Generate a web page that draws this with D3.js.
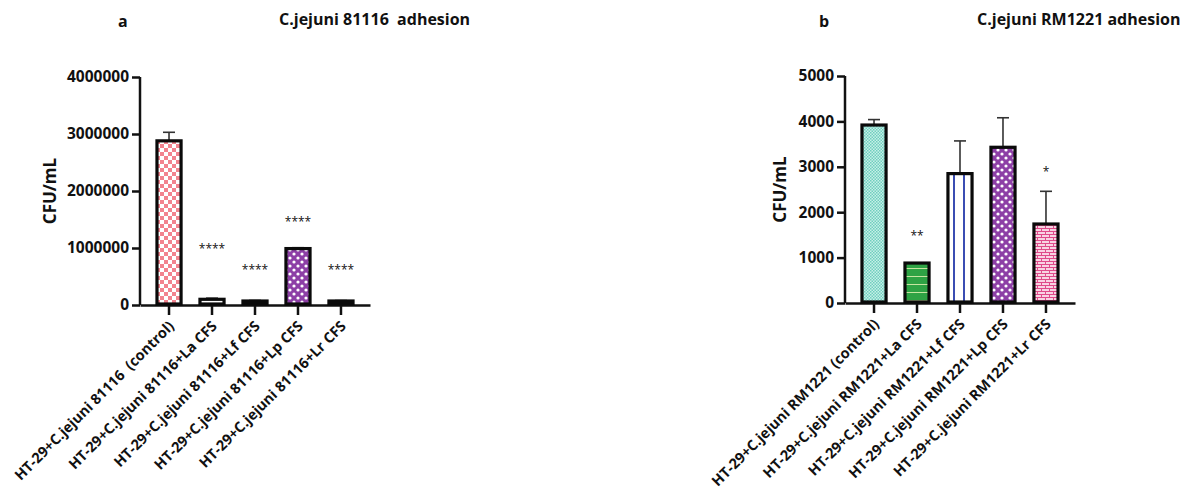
<!DOCTYPE html>
<html lang="en">
<head>
<meta charset="UTF-8">
<title>C.jejuni adhesion</title>
<style>
  body { margin: 0; background: #fff; }
  svg { display: block; }
  text { font-family: "Open Sans", "Noto Sans", sans-serif; fill: #111; white-space: pre; }
  .tick text { font-weight: bold; font-size: 15.5px; }
  .xlab { font-weight: bold; font-size: 14.5px; }
  .title { font-weight: bold; font-size: 16px; }
  .panel { font-weight: bold; font-size: 16px; }
  .ylab { font-weight: bold; font-size: 17px; }
  .star { font-size: 12px; }
</style>
</head>
<body>
<div id="chart"></div>
<script src="https://cdn.jsdelivr.net/npm/d3@7"></script>
<script>
// ---- data ----
var catsA = ["HT-29+C.jejuni 81116  (control)", "HT-29+C.jejuni 81116+La CFS",
  "HT-29+C.jejuni 81116+Lf CFS", "HT-29+C.jejuni 81116+Lp CFS", "HT-29+C.jejuni 81116+Lr CFS"];
var valsA = [2880000, 100000, 70000, 990000, 70000];
var errA = [150000, 20000, 10000, 15000, 8000];
var starsA = ["", "****", "****", "****", "****"];
var starYA = [0, 1000000, 640000, 1470000, 640000];
var ticksA = [0, 1000000, 2000000, 3000000, 4000000];

var catsB = ["HT-29+C.jejuni RM1221 (control)", "HT-29+C.jejuni RM1221+La CFS",
  "HT-29+C.jejuni RM1221+Lf CFS", "HT-29+C.jejuni RM1221+Lp CFS", "HT-29+C.jejuni RM1221+Lr CFS"];
var valsB = [3920, 880, 2850, 3430, 1740];
var errB = [120, 0, 720, 650, 720];
var starsB = ["", "**", "", "", "*"];
var starYB = [0, 1500, 0, 0, 2900];
var ticksB = [0, 1000, 2000, 3000, 4000, 5000];

var W = 1199, H = 494;
var svg = d3.select("#chart").append("svg").attr("width", W).attr("height", H);
var defs = svg.append("defs");

// ---- fill patterns ----
function pat(id, w, h, bg) {
  var p = defs.append("pattern").attr("id", id).attr("patternUnits", "userSpaceOnUse")
    .attr("width", w).attr("height", h);
  p.append("rect").attr("width", w).attr("height", h).attr("fill", bg);
  return p;
}
var p1 = pat("checkPink", 8, 8, "#fff");
p1.append("rect").attr("width", 4).attr("height", 4).attr("fill", "#f2838e");
p1.append("rect").attr("x", 4).attr("y", 4).attr("width", 4).attr("height", 4).attr("fill", "#f2838e");

pat("plainWhite", 4, 4, "#fff");

var p3 = pat("navyDash", 8, 4, "#1c1f5c");
p3.append("rect").attr("x", 2).attr("y", 1.5).attr("width", 3).attr("height", 1).attr("fill", "#fff");

function dots(id, bg) {
  var p = pat(id, 8, 8, bg);
  p.append("circle").attr("cx", 2).attr("cy", 2).attr("r", 1.6).attr("fill", "#fff");
  p.append("circle").attr("cx", 6).attr("cy", 6).attr("r", 1.6).attr("fill", "#fff");
}
dots("purpleDots", "#8d3fa6");

var p5 = pat("redLine", 6, 4, "#f4e4ea");
p5.append("rect").attr("y", 1).attr("width", 6).attr("height", 1.5).attr("fill", "#b2385a");

var p6 = pat("tealCheck", 3, 3, "#c8efe8");
p6.append("rect").attr("width", 1.5).attr("height", 1.5).attr("fill", "#6fcfbe");
p6.append("rect").attr("x", 1.5).attr("y", 1.5).attr("width", 1.5).attr("height", 1.5).attr("fill", "#6fcfbe");

var p7 = pat("greenLines", 6, 8, "#2ea344");
p7.append("rect").attr("y", 4).attr("width", 6).attr("height", 1).attr("fill", "#c6e6a0");

var p8 = pat("blueStripes", 10, 6, "#fff");
p8.append("rect").attr("x", 3).attr("width", 2).attr("height", 6).attr("fill", "#3b4db3");

var p9 = pat("pinkBrick", 8, 6, "#f8d3e2");
p9.append("rect").attr("y", 0).attr("width", 8).attr("height", 1).attr("fill", "#df4a8a");
p9.append("rect").attr("y", 3).attr("width", 8).attr("height", 1).attr("fill", "#df4a8a");
p9.append("rect").attr("x", 1).attr("y", 0).attr("width", 1).attr("height", 3).attr("fill", "#df4a8a");
p9.append("rect").attr("x", 5).attr("y", 3).attr("width", 1).attr("height", 3).attr("fill", "#df4a8a");

var fillsA = ["checkPink", "plainWhite", "navyDash", "purpleDots", "redLine"];
var fillsB = ["tealCheck", "greenLines", "blueStripes", "purpleDots", "pinkBrick"];

// ---- one panel ----
function panel(o) {
  var g = svg.append("g");
  var x = d3.scaleBand().domain(o.cats).range([o.x0, o.x0 + 230]).paddingInner(0.37).paddingOuter(0.36);
  var y = d3.scaleLinear().domain([0, o.ticks[o.ticks.length - 1]]).range([o.y0, o.y1]);

  var ya = g.append("g").attr("transform", "translate(" + o.x0 + ",0)")
    .call(d3.axisLeft(y).tickValues(o.ticks).tickFormat(d3.format("d")).tickSize(8).tickSizeOuter(0).tickPadding(3));
  ya.selectAll("path, line").attr("stroke", "#111").attr("stroke-width", 2.5);
  ya.select(".domain").attr("d", "M0," + o.y0 + "V" + o.y1);
  ya.selectAll(".tick text").attr("fill", "#111");

  var xa = g.append("g").attr("transform", "translate(0," + o.y0 + ")")
    .call(d3.axisBottom(x).tickSize(10).tickSizeOuter(0).tickFormat(""));
  xa.selectAll("path, line").attr("stroke", "#111").attr("stroke-width", 2.5);

  // error bars
  o.vals.forEach(function (v, i) {
    if (!o.err[i]) return;
    var cx = x(o.cats[i]) + x.bandwidth() / 2;
    g.append("line").attr("x1", cx).attr("x2", cx).attr("y1", y(v)).attr("y2", y(v + o.err[i]))
      .attr("stroke", "#333").attr("stroke-width", 1.6);
    g.append("line").attr("x1", cx - 6).attr("x2", cx + 6).attr("y1", y(v + o.err[i])).attr("y2", y(v + o.err[i]))
      .attr("stroke", "#333").attr("stroke-width", 1.6);
  });

  g.selectAll(".bar").data(o.vals).enter().append("rect")
    .attr("x", function (d, i) { return x(o.cats[i]) + 1.5; })
    .attr("width", x.bandwidth() - 3)
    .attr("y", function (d) { return y(d); })
    .attr("height", function (d) { return o.y0 - y(d) - 1; })
    .attr("fill", function (d, i) { return "url(#" + o.fills[i] + ")"; })
    .attr("stroke", "#0a0a0a").attr("stroke-width", 3.2);

  g.selectAll(".star").data(o.stars).enter().append("text")
    .attr("class", "star").attr("text-anchor", "middle")
    .attr("x", function (d, i) { return x(o.cats[i]) + x.bandwidth() / 2; })
    .attr("y", function (d, i) { return y(o.starY[i]) + 5; })
    .text(function (d) { return d; });

  g.selectAll(".xlab").data(o.cats).enter().append("text")
    .attr("class", "xlab").attr("text-anchor", "end")
    .attr("transform", function (d) {
      return "translate(" + (x(d) + x.bandwidth() / 2 + 6) + "," + (o.y0 + 22) + ") rotate(-45)";
    })
    .text(function (d) { return d; });

  g.append("text").attr("class", "ylab").attr("text-anchor", "middle")
    .attr("transform", "translate(" + o.ylx + "," + ((o.y0 + o.y1) / 2) + ") rotate(-90)")
    .text("CFU/mL");
  g.append("text").attr("class", "title").attr("x", o.tx).attr("y", 25).text(o.title);
  g.append("text").attr("class", "panel").attr("x", o.px).attr("y", 27).text(o.label);
}

panel({ cats: catsA, vals: valsA, err: errA, stars: starsA, starY: starYA, ticks: ticksA, fills: fillsA,
  x0: 140, y0: 305, y1: 77, ylx: 56, tx: 279, px: 118, title: "C.jejuni 81116  adhesion", label: "a" });
panel({ cats: catsB, vals: valsB, err: errB, stars: starsB, starY: starYB, ticks: ticksB, fills: fillsB,
  x0: 845, y0: 303, y1: 76, ylx: 786, tx: 977, px: 819, title: "C.jejuni RM1221 adhesion", label: "b" });
</script>
</body>
</html>
